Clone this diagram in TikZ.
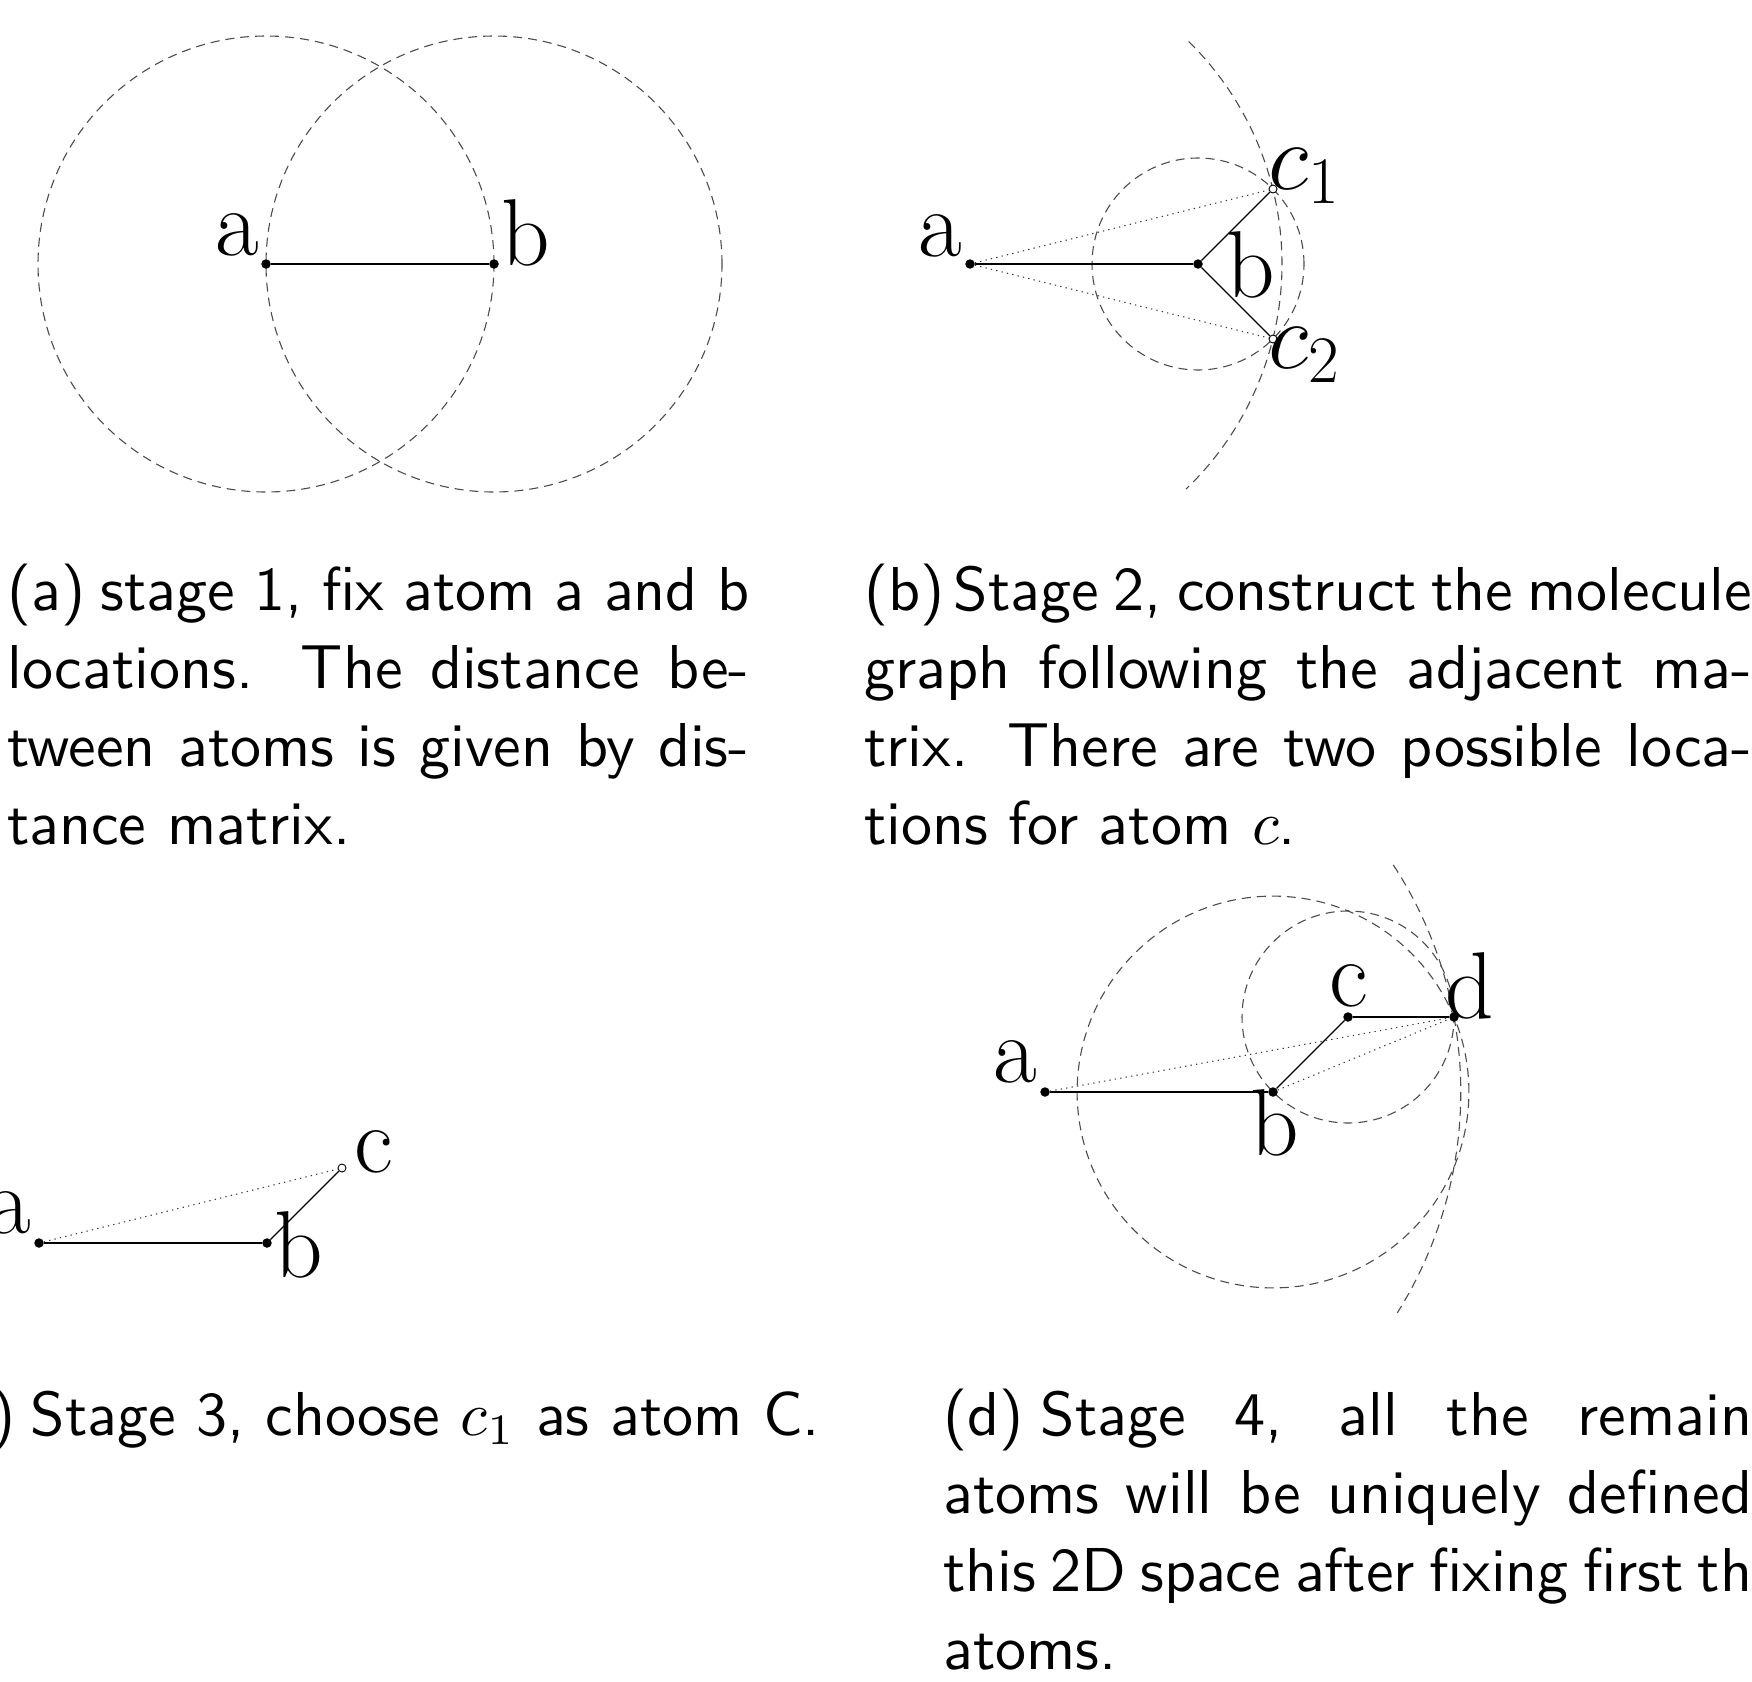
\RequirePackage{fix-cm}
\documentclass[tikz,border=0pt]{standalone}
\usepackage{graphicx}
\usetikzlibrary{calc,backgrounds}
\tikzset{
  dot/.style={circle, fill=black, inner sep=0pt, minimum size=9.5pt},
  odot/.style={circle, draw=black, fill=white, inner sep=0pt, minimum size=8pt, line width=0.9pt},
  bond/.style={draw=black, line width=1.2pt},
  guide/.style={draw=black!70, line width=1.1pt, dash pattern=on 9pt off 6pt},
  hint/.style={draw=black!75, line width=1.1pt, dash pattern=on 1.3pt off 4.2pt},
  lab/.style={inner sep=0pt, font=\fontsize{95}{95}\selectfont},
  captext/.style={inner sep=0pt, anchor=base west},
}
\newcommand\capbox[2]{\scalebox{6.2}{\parbox[t]{#1}{\sffamily\fontsize{10}{12.63}\selectfont #2}}}
\newcommand\jline[1]{\makebox[\linewidth][s]{#1}}
\begin{document}
\begin{tikzpicture}[x=1pt,y=-1pt]
\useasboundingbox (0,0) rectangle (1752,1681);
\clip (0,0) rectangle (1752,1681);

% ---------- panel (a)
\node[dot] (a1) at (266,264) {};
\node[dot] (b1) at (494,264) {};
\begin{scope}[on background layer]
\draw[guide] (a1) circle[radius=228pt];
\draw[guide] (b1) circle[radius=228pt];
\end{scope}
\draw[bond] (a1) -- (b1);
\node[lab, anchor=base] (la1) at (237,255) {a};
\node[lab, anchor=base] (lb1) at (526,265) {b};

% ---------- panel (b)
\node[dot] (a2) at (970,264) {};
\node[dot] (b2) at (1198,264) {};
\node[odot] (c21) at (1273,189) {};
\node[odot] (c22) at (1273,339) {};
\begin{scope}[on background layer]
\draw[guide] (b2) circle[radius=106pt];
\draw[guide] ($(a2)+(45.5:312pt)$) arc[start angle=45.5, end angle=-46.2, radius=312pt];
\end{scope}
\draw[bond] (a2) -- (b2);
\draw[bond] (b2) -- (c21);
\draw[bond] (b2) -- (c22);
\draw[hint] (a2) -- (c21);
\draw[hint] (a2) -- (c22);
\node[lab, anchor=base] (la2) at (940,256) {a};
\node[lab, anchor=base] (lb2) at (1251,297) {b};
\node[lab, anchor=base west] (lc21) at (1268,189) {$c_1$};
\node[lab, anchor=base west] (lc22) at (1268,368) {$c_2$};

% ---------- panel (c)
\node[dot] (a3) at (39,1243) {};
\node[dot] (b3) at (267,1243) {};
\node[odot] (c3) at (342,1168) {};
\draw[bond] (a3) -- (b3);
\draw[bond] (b3) -- (c3);
\draw[hint] (a3) -- (c3);
\node[lab, anchor=base] (la3) at (9,1233) {a};
\node[lab, anchor=base] (lb3) at (299,1277) {b};
\node[lab, anchor=base] (lc3) at (374,1172) {c};

% ---------- panel (d)
\node[dot] (a4) at (1045,1092) {};
\node[dot] (b4) at (1273,1092) {};
\node[dot] (c4) at (1348,1017) {};
\node[dot] (d4) at (1454,1017) {};
\begin{scope}[on background layer]
\draw[guide] (b4) circle[radius=195.9pt];
\draw[guide] (c4) circle[radius=106pt];
\draw[guide] ($(a4)+(33.1:415.8pt)$) arc[start angle=33.1, end angle=-32.1, radius=415.8pt];
\end{scope}
\draw[bond] (a4) -- (b4);
\draw[bond] (b4) -- (c4);
\draw[bond] (c4) -- (d4);
\draw[hint] (a4) -- (d4);
\draw[hint] (b4) -- (d4);
\node[lab, anchor=base] (la4) at (1015,1082) {a};
\node[lab, anchor=base] (lb4) at (1275,1155) {b};
\node[lab, anchor=base] (lc4) at (1349,1006) {c};
\node[lab, anchor=base] (ld4) at (1470,1018) {d};

% ---------- captions
\node[captext] (capa) at (7,610) {\capbox{119.7pt}{%
\jline{(a)\hspace{2.5pt}stage 1, fix atom a and b}\\
\jline{locations. The distance be-}\\
\jline{tween atoms is given by dis-}\\
tance matrix.}};
\node[captext] (capb) at (864,610) {\capbox{143.2pt}{%
\jline{(b)\hspace{1.5pt}Stage 2, construct the molecule}\\
\jline{graph following the adjacent ma-}\\
\jline{trix. There are two possible loca-}\\
tions for atom $c$.}};
\node[captext] (capc) at (-9,1435) {\scalebox{6.2}{\sffamily\fontsize{10}{12.63}\selectfont )\hspace{2.5pt}Stage 3, choose $c_1$ as atom C.}};
\node[captext] (capd) at (943,1435) {\capbox{130.5pt}{%
\jline{(d)\hspace{2.8pt}Stage 4, all the remain}\\
\jline{atoms will be uniquely defined}\\
\jline{this 2D space after fixing first th}\\
atoms.}};
\end{tikzpicture}
\end{document}
